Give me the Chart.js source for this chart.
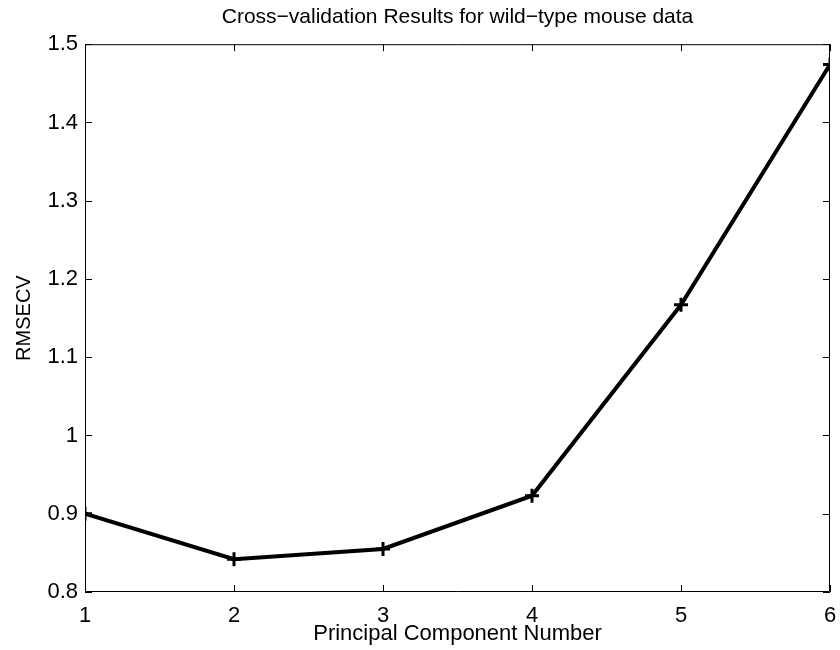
<!DOCTYPE html>
<html>
<head>
<meta charset="utf-8">
<script src="https://cdn.jsdelivr.net/npm/chart.js@4/dist/chart.umd.min.js"></script>
<style>
html,body{margin:0;padding:0;background:#fff;}
#wrap{width:840px;height:650px;position:relative;}
</style>
</head>
<body>
<div id="wrap"><canvas id="c" width="840" height="650"></canvas></div>
<script>
const components = [1, 2, 3, 4, 5, 6];
const rmsecv = [0.900, 0.842, 0.855, 0.923, 1.167, 1.474];
const yTicks = [0.8, 0.9, 1.0, 1.1, 1.2, 1.3, 1.4, 1.5];
const titleText = 'Cross\u2212validation Results for wild\u2212type mouse data';
const xTitle = 'Principal Component Number';
const yTitle = 'RMSECV';

const FONT = 'Liberation Sans, Arial, Helvetica, sans-serif';

const boxTicks = {
  id: 'boxTicks',
  afterDatasetsDraw(chart) {
    const {ctx, chartArea: a, scales: {x, y}} = chart;
    ctx.save();
    ctx.strokeStyle = '#000';
    ctx.lineWidth = 1;
    ctx.beginPath();
    ctx.rect(a.left + 0.5, a.top + 0.5, a.right - a.left - 1, a.bottom - a.top - 1);
    ctx.stroke();
    const L = 7;
    ctx.beginPath();
    components.forEach(v => {
      const px = Math.round(x.getPixelForValue(v)) + 0.5;
      ctx.moveTo(px, a.bottom); ctx.lineTo(px, a.bottom - L);
      ctx.moveTo(px, a.top); ctx.lineTo(px, a.top + L);
    });
    yTicks.forEach(v => {
      const py = Math.round(y.getPixelForValue(v)) + 0.5;
      ctx.moveTo(a.left, py); ctx.lineTo(a.left + L, py);
      ctx.moveTo(a.right, py); ctx.lineTo(a.right - L, py);
    });
    ctx.stroke();
    ctx.restore();
  }
};

new Chart(document.getElementById('c'), {
  type: 'line',
  data: {
    datasets: [{
      data: components.map((c, i) => ({x: c, y: rmsecv[i]})),
      borderColor: '#000',
      backgroundColor: '#000',
      borderWidth: 4,
      pointStyle: 'cross',
      pointRadius: 7,
      pointBorderWidth: 3,
      pointBorderColor: '#000',
      tension: 0,
      fill: false
    }]
  },
  options: {
    responsive: false,
    animation: false,
    devicePixelRatio: 1,
    layout: {padding: {left: 0, right: 9, top: 0, bottom: 0}},
    plugins: {
      legend: {display: false},
      tooltip: {enabled: false},
      title: {
        display: true,
        fullSize: false,
        text: titleText,
        color: '#000',
        font: {family: FONT, size: 21, weight: 'normal'},
        padding: {top: 5, bottom: 14}
      }
    },
    scales: {
      x: {
        type: 'linear',
        min: 1, max: 6,
        afterFit(s) { s.height = 58; s.paddingRight = 5; s.paddingLeft = 0; },
        afterBuildTicks(s) { s.ticks = components.map(v => ({value: v})); },
        grid: {display: false, drawTicks: false},
        border: {display: false},
        ticks: {color: '#000', font: {family: FONT, size: 22}, padding: 11, maxRotation: 0,
                callback: v => String(v)},
        title: {display: true, text: xTitle, color: '#000',
                font: {family: FONT, size: 22}, padding: {top: 0, bottom: 3}}
      },
      y: {
        type: 'linear',
        min: 0.8, max: 1.5,
        afterFit(s) { s.width = 85; },
        afterBuildTicks(s) { s.ticks = yTicks.map(v => ({value: v})); },
        grid: {display: false, drawTicks: false},
        border: {display: false},
        ticks: {color: '#000', font: {family: FONT, size: 22}, padding: 7,
                callback: v => (Math.round(v * 10) / 10).toString()},
        title: {display: true, text: yTitle, color: '#000',
                font: {family: FONT, size: 20}, padding: {top: 12, bottom: 0}}
      }
    }
  },
  plugins: [boxTicks]
});
</script>
</body>
</html>
